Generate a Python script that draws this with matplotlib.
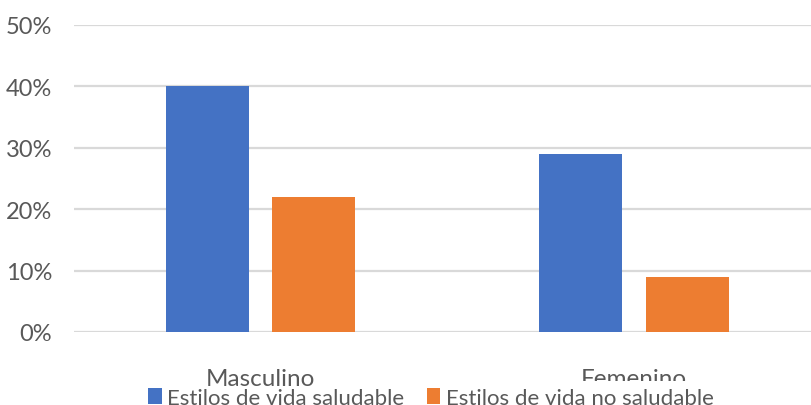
import matplotlib
matplotlib.use("Agg")
import matplotlib.pyplot as plt
import numpy as np

categories = ["Masculino", "Femenino"]
series_names = ["Estilos de vida saludable", "Estilos de vida no saludable"]
saludable = [0.40, 0.29]
no_saludable = [0.22, 0.09]
y_ticks = [0.0, 0.1, 0.2, 0.3, 0.4, 0.5]
y_tick_labels = ["0%", "10%", "20%", "30%", "40%", "50%"]

colors = ["#4472C4", "#ED7D31"]
text_gray = "#595959"
grid_gray = "#D9D9D9"

plt.rcParams["font.family"] = ["Lato", "DejaVu Sans"]

W, H = 811, 406
fig = plt.figure(figsize=(W / 100, H / 100), dpi=100)
left_px, right_px, bottom_px, top_px = 73.5, 821.0, 333.0, 26.0
ax = fig.add_axes([left_px / W, (H - bottom_px) / H,
                   (right_px - left_px) / W, (bottom_px - top_px) / H])

x = np.arange(len(categories))
bw = 0.222
off = 0.1425
ax.bar(x - off, saludable, width=bw, color=colors[0], label=series_names[0], zorder=3)
ax.bar(x + off, no_saludable, width=bw, color=colors[1], label=series_names[1], zorder=3)

ax.set_xlim(-0.5, len(categories) - 0.5)
ax.set_ylim(0, 0.5)
ax.set_yticks(y_ticks)
ax.set_yticklabels(y_tick_labels)
ax.set_xticks([])
ax.tick_params(axis="y", length=0, pad=15.5, labelsize=17, labelcolor=text_gray)
ax.yaxis.grid(True, color=grid_gray, linewidth=1.6, zorder=0)
ax.set_axisbelow(True)
for s in ["top", "right", "left", "bottom"]:
    ax.spines[s].set_visible(False)

# category labels below the axis
label_y = -(380 - bottom_px) / (bottom_px - top_px) * 0.5
ax.text(0, label_y, categories[0], ha="center", va="center", fontsize=17.5,
        color=text_gray, clip_on=False, zorder=6)
ax.text(1, label_y, categories[1], ha="center", va="center", fontsize=17.5,
        color=text_gray, clip_on=False, zorder=4)

leg = ax.legend(loc="upper center", bbox_to_anchor=(431 / W, (H - 382) / H),
                bbox_transform=fig.transFigure, ncol=2, frameon=True,
                facecolor="white", edgecolor="none", framealpha=1,
                fontsize=16, handlelength=0.6, handleheight=0.7,
                handletextpad=0.25, columnspacing=1.0, borderpad=0.3,
                borderaxespad=0)
leg.set_zorder(5)
for t in leg.get_texts():
    t.set_color(text_gray)

fig.savefig("out.png", dpi=100)
